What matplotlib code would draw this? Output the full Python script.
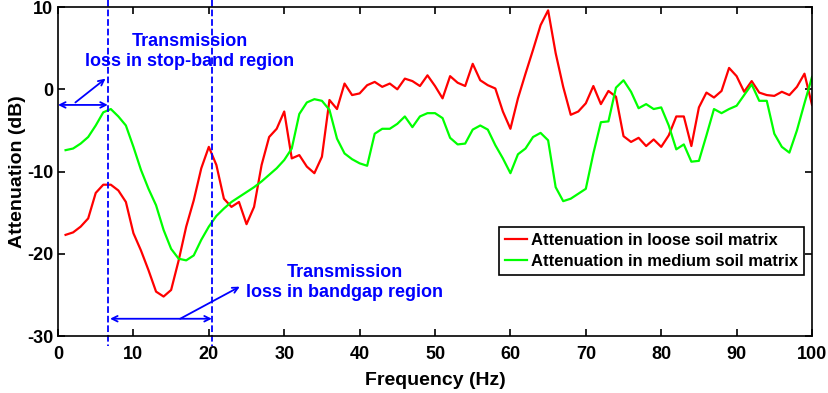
import numpy as np
import matplotlib
matplotlib.use("Agg")
import matplotlib.pyplot as plt

# DATA
freq = list(range(1, 101))

loose = [-17.7, -17.4, -16.7, -15.7, -12.6, -11.6, -11.6, -12.3, -13.7, -17.5,
         -19.6, -22.0, -24.6, -25.2, -24.4, -20.8, -16.7, -13.5, -9.6, -7.0,
         -9.2, -13.3, -14.3, -13.7, -16.4, -14.3, -9.2, -5.8, -4.8, -2.7,
         -8.4, -8.0, -9.4, -10.2, -8.2, -1.3, -2.4, 0.7, -0.7, -0.5,
         0.5, 0.9, 0.3, 0.7, 0.0, 1.3, 1.0, 0.4, 1.7, 0.4,
         -1.1, 1.6, 0.8, 0.4, 3.1, 1.1, 0.5, 0.1, -2.7, -4.8,
         -1.1, 1.9, 4.8, 7.8, 9.6, 4.4, 0.3, -3.1, -2.7, -1.7,
         0.4, -1.8, -0.2, -0.9, -5.7, -6.4, -5.9, -6.9, -6.1, -7.0,
         -5.6, -3.3, -3.3, -6.9, -2.2, -0.4, -1.0, -0.2, 2.6, 1.6,
         -0.3, 1.0, -0.4, -0.7, -0.8, -0.3, -0.7, 0.3, 1.9, -1.9]

medium = [-7.4, -7.2, -6.6, -5.8, -4.4, -2.8, -2.4, -3.3, -4.4, -7.0,
          -9.8, -12.1, -14.1, -17.1, -19.4, -20.6, -20.8, -20.2, -18.3, -16.7,
          -15.4, -14.5, -13.7, -13.1, -12.5, -11.9, -11.2, -10.4, -9.6, -8.6,
          -7.2, -3.0, -1.6, -1.2, -1.4, -2.5, -6.0, -7.8, -8.5, -9.0,
          -9.3, -5.4, -4.8, -4.8, -4.2, -3.3, -4.6, -3.3, -2.9, -2.9,
          -3.5, -5.9, -6.7, -6.6, -4.9, -4.4, -4.9, -6.8, -8.4, -10.2,
          -7.9, -7.2, -5.8, -5.3, -6.2, -11.9, -13.6, -13.3, -12.7, -12.1,
          -7.8, -4.0, -3.9, 0.2, 1.1, -0.3, -2.3, -1.8, -2.4, -2.2,
          -4.4, -7.3, -6.7, -8.8, -8.7, -5.6, -2.4, -2.9, -2.4, -2.0,
          -0.7, 0.6, -1.4, -1.4, -5.4, -7.0, -7.7, -5.0, -1.7, 1.5]

labels = ["Attenuation in loose soil matrix", "Attenuation in medium soil matrix"]
band_edges = [6.6, 20.4]

plt.rcParams['font.family'] = ['Liberation Sans', 'DejaVu Sans']
plt.rcParams['font.weight'] = 'bold'
plt.rcParams['axes.unicode_minus'] = False

fig = plt.figure(figsize=(8.29, 3.93), dpi=100)
ax = fig.add_axes([0.070, 0.145, 0.9095, 0.837])

ax.plot(freq, loose, color='#ff0000', lw=1.6, label=labels[0])
ax.plot(freq, medium, color='#00ff00', lw=1.6, label=labels[1])

# dashed band markers (run past the axes)
for xe in band_edges:
    ax.plot([xe, xe], [10.9, -31.2], color='#0000ff', ls='--', lw=1.3, clip_on=False)

blue = '#0000ff'
arr = dict(arrowstyle='<->', color=blue, lw=1.3, shrinkA=0, shrinkB=0)
one = dict(arrowstyle='->', color=blue, lw=1.3, shrinkA=0, shrinkB=0)

# stop-band annotation
ax.annotate('', xy=(0, -1.9), xytext=(band_edges[0], -1.9), arrowprops=arr)
ax.annotate('', xy=(6.3, 1.3), xytext=(2.3, -1.6), arrowprops=one)
ax.text(17.5, 4.6, 'Transmission\nloss in stop-band region', color=blue,
        fontsize=13, fontweight='bold', ha='center', va='center', linespacing=1.2)

# bandgap annotation
ax.annotate('', xy=(6.9, -27.9), xytext=(band_edges[1], -27.9), arrowprops=arr)
ax.annotate('', xy=(24.1, -24.0), xytext=(16.2, -27.9), arrowprops=one)
ax.text(38.0, -23.5, 'Transmission\nloss in bandgap region', color=blue,
        fontsize=13, fontweight='bold', ha='center', va='center', linespacing=1.25)

ax.set_xlim(0, 100)
ax.set_ylim(-30, 10)
ax.set_xticks(np.arange(0, 101, 10))
ax.set_yticks(np.arange(-30, 11, 10))
ax.tick_params(direction='in', top=True, right=True, labelsize=13, length=5, width=1.2)
ax.tick_params(axis='x', pad=7)
for s in ax.spines.values():
    s.set_linewidth(1.2)
ax.set_xlabel('Frequency (Hz)', fontsize=14, fontweight='bold', labelpad=7)
ax.set_ylabel('Attenuation (dB)', fontsize=14, fontweight='bold', labelpad=1)

leg = ax.legend(loc='lower right', bbox_to_anchor=(0.989, 0.185), fontsize=12,
                borderaxespad=0, fancybox=False, edgecolor='black', framealpha=1,
                handlelength=1.3, borderpad=0.35, labelspacing=0.38, handletextpad=0.25)
leg.get_frame().set_linewidth(1.2)

fig.savefig('out.png', dpi=100)
